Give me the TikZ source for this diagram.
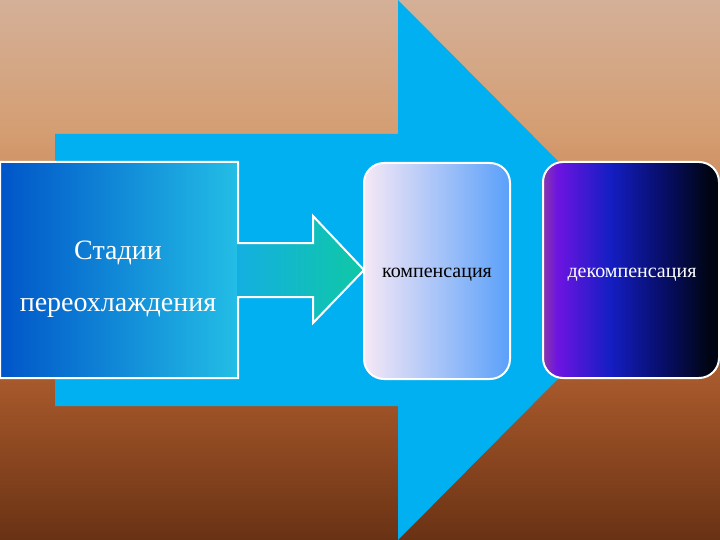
\documentclass[tikz,border=0pt]{standalone}
\usepackage{fontspec}
\setmainfont{Liberation Serif}
\definecolor{bga}{RGB}{212,176,152}
\definecolor{bgb}{RGB}{212,158,115}
\definecolor{bgc}{RGB}{196,118,66}
\definecolor{bgd}{RGB}{160,84,40}
\definecolor{bge}{RGB}{105,50,20}
\definecolor{bigarrow}{RGB}{0,176,240}
\definecolor{lbl}{RGB}{0,85,200}
\definecolor{lbr}{RGB}{35,190,230}
\definecolor{arl}{RGB}{20,175,225}
\definecolor{arm}{RGB}{40,210,225}
\definecolor{arr}{RGB}{15,200,165}
\definecolor{mbl}{RGB}{246,232,246}
\definecolor{mbr}{RGB}{90,160,250}
\definecolor{dka}{RGB}{135,55,170}
\definecolor{dkb}{RGB}{110,20,225}
\definecolor{dkc}{RGB}{20,30,195}
\definecolor{dkd}{RGB}{8,15,110}
\definecolor{dke}{RGB}{0,5,20}
\pgfdeclarehorizontalshading{decomp}{100bp}{color(0bp)=(dka); color(25bp)=(dka); color(29bp)=(dkb); color(44bp)=(dkc); color(58bp)=(dkd); color(72bp)=(dke); color(100bp)=(dke)}
\pgfdeclareverticalshading{backdrop}{100bp}{color(0bp)=(bge); color(25bp)=(bge); color(38bp)=(bgd); color(50bp)=(bgc); color(63bp)=(bgb); color(75bp)=(bga); color(100bp)=(bga)}
\tikzset{
  stagebox/.style={draw=white, line width=2pt, minimum width=#1, inner sep=0pt, minimum height=216pt},
  roundbox/.style={stagebox=#1, rounded corners=20pt},
}
\begin{document}
\begin{tikzpicture}[x=1pt,y=-1pt]
\useasboundingbox (0,0) rectangle (720,540);
% background
\shade[shading=backdrop] (0,0) rectangle (720,540);
% big arrow
\fill[bigarrow] (55,134) -- (398,134) -- (398,0) -- (666,270) -- (398,540) -- (398,406) -- (55,406) -- cycle;
% left box and small arrow
\node[stagebox=238pt, left color=lbl, right color=lbr] (stadii) at (119,270) {};
\shade[left color=arl, middle color=arm, right color=arr]
  (237,243) -- (313,243) -- (313,216) -- (364,270) -- (313,323) -- (313,297) -- (237,297) -- cycle;
\draw[white, line width=2pt, line join=miter]
  (0,162) -- (238,162) -- (238,243) -- (313,243) -- (313,216) -- (364,270) -- (313,323) -- (313,297) -- (238,297) -- (238,378) -- (0,378) -- cycle;
\node[text=white, font=\fontsize{28}{28}\selectfont, align=center] (stadiitext) at (118,279) {Стадии\\[24pt]переохлаждения};
% middle box
\node[roundbox=146pt, left color=mbl, right color=mbr] (komp) at (437,271) {};
\node[font=\fontsize{20}{22}\selectfont, text=black] (komptext) at (437,275) {компенсация};
% right box
\node[roundbox=176pt, shading=decomp] (dekomp) at (631,270) {};
\node[font=\fontsize{20}{22}\selectfont, text=white] (dekomptext) at (632,275) {декомпенсация};
\end{tikzpicture}
\end{document}
